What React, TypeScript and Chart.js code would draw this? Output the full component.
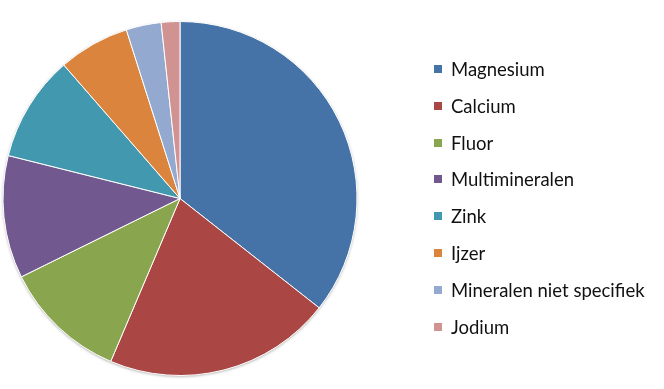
import React, { useEffect, useRef } from "react";
import { Chart, registerables } from "chart.js";

Chart.register(...registerables);

const categories = [
  "Magnesium",
  "Calcium",
  "Fluor",
  "Multimineralen",
  "Zink",
  "Ijzer",
  "Mineralen niet specifiek",
  "Jodium",
];
const values = [35.6, 20.8, 11.3, 11.2, 9.7, 6.5, 3.2, 1.7];
const colors = [
  "#4572A7",
  "#AA4643",
  "#89A54E",
  "#71588F",
  "#4198AF",
  "#DB843D",
  "#93A9CF",
  "#D19392",
];

const shadowPlugin = {
  id: "pieShadow",
  beforeDatasetsDraw(chart: any) {
    const meta = chart.getDatasetMeta(0);
    const arc = meta.data[0];
    if (!arc) return;
    const { x, y, outerRadius } = arc.getProps(["x", "y", "outerRadius"], true);
    const ctx = chart.ctx;
    ctx.save();
    ctx.shadowColor = "rgba(0,0,0,0.35)";
    ctx.shadowBlur = 3;
    ctx.shadowOffsetX = 0;
    ctx.shadowOffsetY = 1;
    ctx.beginPath();
    ctx.arc(x, y, outerRadius, 0, Math.PI * 2);
    ctx.fillStyle = "#ffffff";
    ctx.fill();
    ctx.restore();
  },
};

export default function App() {
  const ref = useRef<HTMLCanvasElement | null>(null);
  useEffect(() => {
    document.body.style.margin = "0";
    if (!ref.current) return;
    const chart = new Chart(ref.current, {
      type: "pie",
      data: {
        labels: categories,
        datasets: [
          {
            data: values,
            backgroundColor: colors,
            borderColor: "#ffffff",
            borderWidth: 1,
          },
        ],
      },
      options: {
        animation: false,
        responsive: false,
        maintainAspectRatio: false,
        radius: 177,
        layout: { padding: { left: 0, right: 304, top: 8, bottom: 0 } },
        plugins: {
          legend: { display: false },
          tooltip: { enabled: false },
        },
      } as any,
      plugins: [shadowPlugin],
    });
    return () => chart.destroy();
  }, []);

  return (
    <div style={{ position: "relative", width: 664, height: 389, background: "#fff" }}>
      <canvas ref={ref} width={664} height={389} style={{ position: "absolute", left: 0, top: 0 }} />
      <div style={{ position: "absolute", left: 434, top: 50.6, fontFamily: "Lato, 'Open Sans', sans-serif", fontSize: 18.5, color: "#111" }}>
        {categories.map((c, i) => (
          <div key={c} style={{ display: "flex", alignItems: "center", height: 36.8, whiteSpace: "nowrap" }}>
            <span style={{ display: "inline-block", width: 8, height: 8, background: colors[i], marginRight: 9 }} />
            <span>{c}</span>
          </div>
        ))}
      </div>
    </div>
  );
}
